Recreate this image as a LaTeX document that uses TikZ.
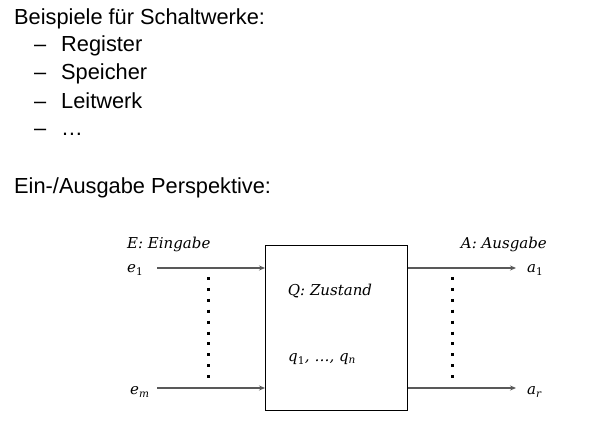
\documentclass[tikz,border=0pt]{standalone}
\usepackage{fontspec}
\setmainfont{Liberation Sans}
\newfontfamily\labfont{DejaVu Serif}
\usetikzlibrary{arrows.meta}
\tikzset{
  bigtext/.style={anchor=base west, inner sep=0pt, font=\fontsize{21.8}{24}\selectfont},
  mlabel/.style={inner sep=0pt, font=\labfont\itshape\fontsize{15}{17}\selectfont},
  sig/.style={draw=black!65, line width=1.1pt, -{Stealth[length=6pt,width=5pt]}},
  dotcol/.style={line width=3pt, dash pattern=on 3pt off 7.9pt}
}
\newcommand{\sbs}[1]{\textsubscript{#1}}
\begin{document}
\begin{tikzpicture}[x=1pt,y=-1pt]
\useasboundingbox (0,0) rectangle (600,428);
% header text
\node[bigtext] (t1) at (14,25) {Beispiele für Schaltwerke:};
\node[bigtext] (d1) at (34,52) {–};
\node[bigtext] (l1) at (61,52) {Register};
\node[bigtext] (d2) at (34,80) {–};
\node[bigtext] (l2) at (61,80) {Speicher};
\node[bigtext] (d3) at (34,108) {–};
\node[bigtext] (l3) at (61,108) {Leitwerk};
\node[bigtext] (d4) at (34,135) {–};
\node[bigtext] (l4) at (61,135) {…};
\node[bigtext] (t2) at (14,193) {Ein-/Ausgabe Perspektive:};
% box
\node[draw, line width=1pt, minimum width=142pt, minimum height=165pt, anchor=north west, inner sep=0pt] (box) at (265,245) {};
\node[mlabel] (Q) at (330,291) {Q: Zustand};
\node[mlabel, anchor=west] (q) at (288,359) {q\sbs{\upshape 1}, …, q\sbs{n}};
% labels
\node[mlabel, anchor=base west] (E) at (127,248) {E: Eingabe};
\node[mlabel, anchor=base east] (A) at (547,248) {A: Ausgabe};
\node[mlabel, anchor=west] (e1) at (127,270) {e\sbs{\upshape 1}};
\node[mlabel, anchor=west] (em) at (130,392) {e\sbs{m}};
\node[mlabel, anchor=west] (a1) at (527,270) {a\sbs{\upshape 1}};
\node[mlabel, anchor=west] (ar) at (527,392) {a\sbs{r}};
% signal coordinates
\coordinate (e1s) at (157,268);
\coordinate (ems) at (157,388);
\coordinate (a1e) at (516,268);
\coordinate (are) at (516,388);
\draw[sig] (e1s) -- (box.west |- e1s);
\draw[sig] (ems) -- (box.west |- ems);
\draw[sig] (box.east |- a1e) -- (a1e);
\draw[sig] (box.east |- are) -- (are);
% dotted columns
\draw[dotcol] (208,277) -- (208,378);
\draw[dotcol] (452,277) -- (452,378);
\end{tikzpicture}
\end{document}
